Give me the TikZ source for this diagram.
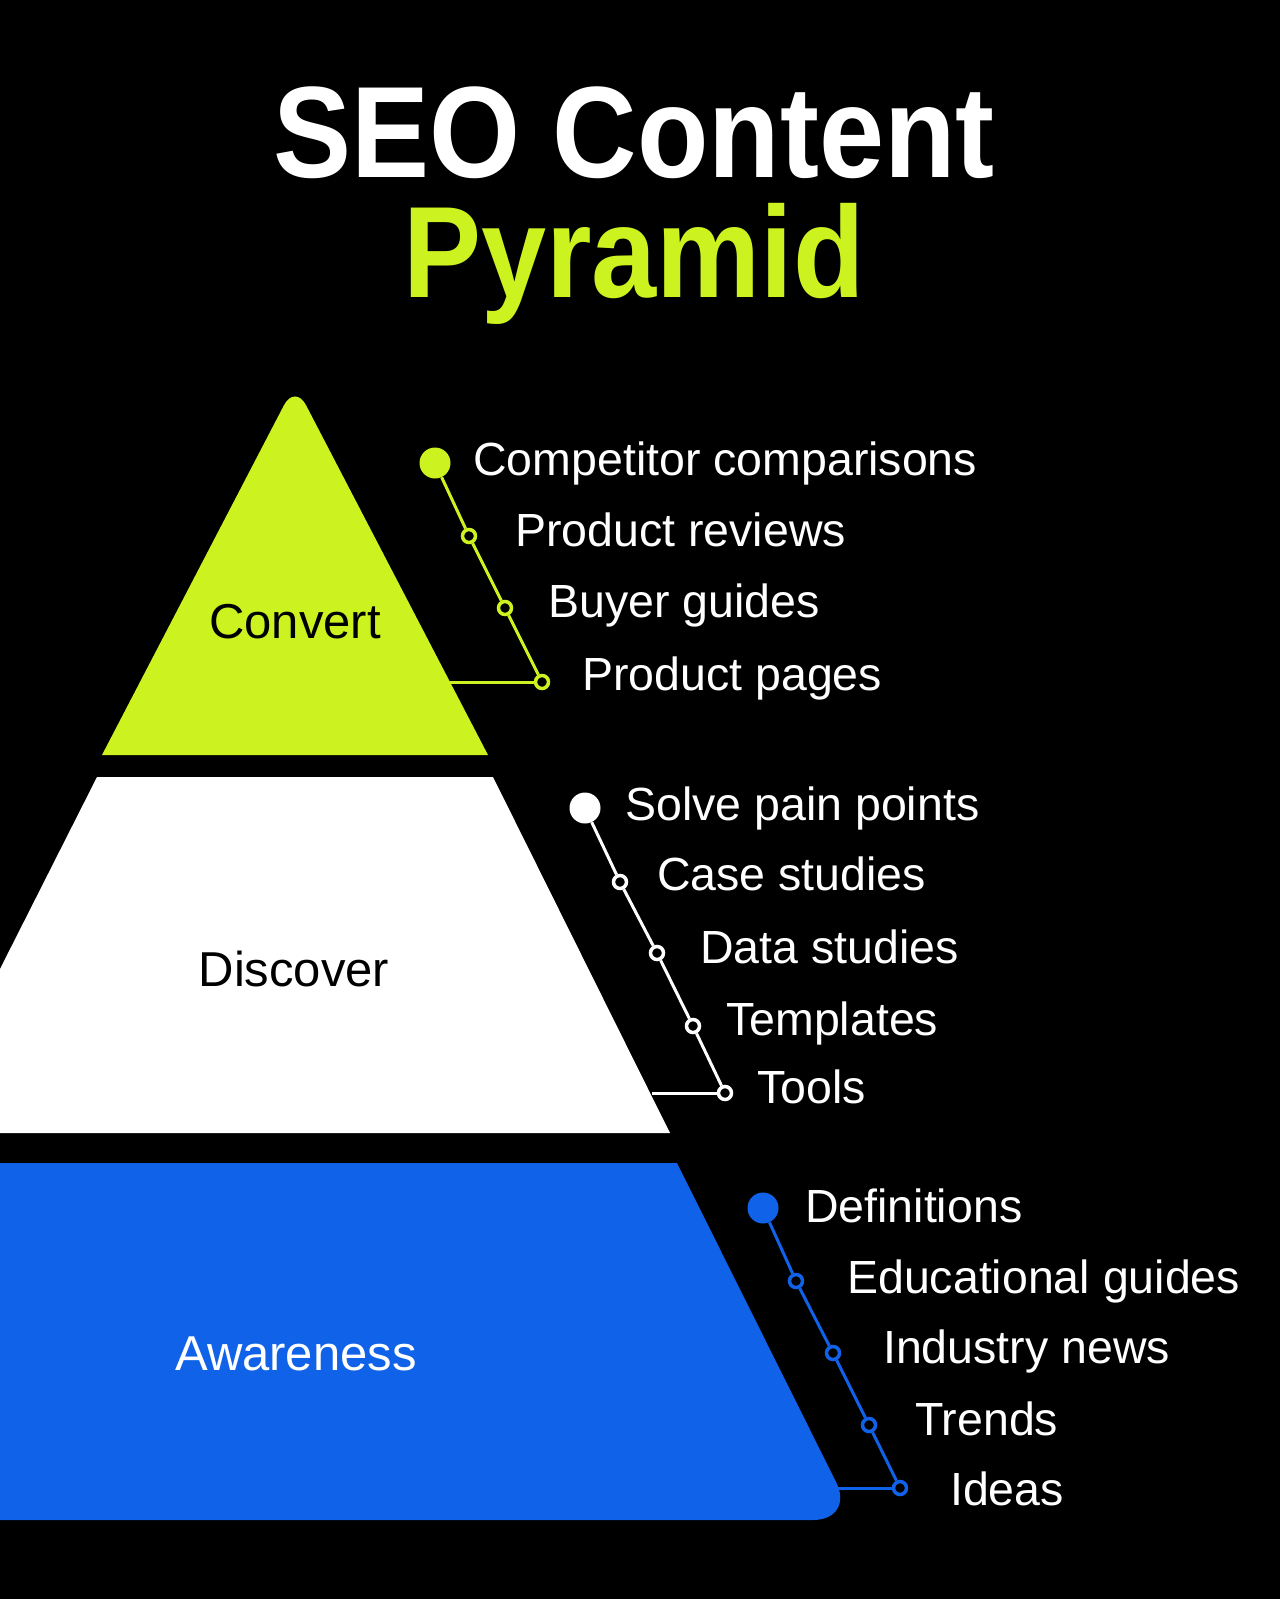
\documentclass[tikz,border=0pt]{standalone}
\usepackage{fontspec}
\setmainfont{Liberation Sans}
\definecolor{seolime}{HTML}{CCF21F}
\definecolor{seoblue}{HTML}{1063E8}
\begin{document}
\begin{tikzpicture}[x=1pt,y=-1pt,
  bigdot/.style={circle,fill=#1,minimum size=31pt,inner sep=0pt},
  ring/.style={circle,draw=#1,fill=black,line width=3.5pt,minimum size=13pt,inner sep=0pt},
  conn/.style={draw=#1,line width=3pt},
  item/.style={anchor=base west,inner sep=0pt,text=white,font=\fontsize{46.5}{50}\selectfont},
  layerlabel/.style={anchor=base,inner sep=0pt,font=\fontsize{49}{54}\selectfont},
  titletext/.style={anchor=base,inner sep=0pt,font=\fontsize{130}{140}\selectfont\bfseries}]
\useasboundingbox (0,0) rectangle (1280,1599);
\fill[black] (0,0) rectangle (1280,1599);

% title
\node[titletext,text=white] (t1) at (634,177) {\scalebox{0.9}[1]{SEO Content}};
\node[titletext,text=seolime] (t2) at (634,297) {\scalebox{0.9}[1]{Pyramid}};

% layers
\fill[seolime] (102,755) [rounded corners=24pt] -- (295,384) [sharp corners] -- (488,755) -- cycle;
\fill[white] (0,969) -- (97,777) -- (493,777) -- (670,1133) -- (0,1133) -- cycle;
\fill[seoblue] (0,1163) -- (677,1163) [rounded corners=42pt] -- (855,1520) [sharp corners] -- (0,1520) -- cycle;

\node[layerlabel,text=black] (lc) at (295,638) {Convert};
\node[layerlabel,text=black] (ld) at (294,986) {Discover};
\node[layerlabel,text=white] (la) at (296,1370) {Awareness};

% convert bullets
\coordinate (ec) at (450,682);
\node[bigdot=seolime] (c0) at (435,463) {};
\node[ring=seolime] (c1) at (469,536) {};
\node[ring=seolime] (c2) at (505,608) {};
\node[ring=seolime] (c3) at (542,682) {};
\draw[conn=seolime] (c0) -- (c1);
\draw[conn=seolime] (c1) -- (c2);
\draw[conn=seolime] (c2) -- (c3);
\draw[conn=seolime] (ec) -- (c3);
\node[item] (ct0) at (473,475) {Competitor comparisons};
\node[item] (ct1) at (515,546) {Product reviews};
\node[item] (ct2) at (548,617) {Buyer guides};
\node[item] (ct3) at (582,690) {Product pages};

% discover bullets
\coordinate (ed) at (652,1093);
\node[bigdot=white] (d0) at (585,808) {};
\node[ring=white] (d1) at (620,882) {};
\node[ring=white] (d2) at (657,953) {};
\node[ring=white] (d3) at (693,1026) {};
\node[ring=white] (d4) at (725,1093) {};
\draw[conn=white] (d0) -- (d1);
\draw[conn=white] (d1) -- (d2);
\draw[conn=white] (d2) -- (d3);
\draw[conn=white] (d3) -- (d4);
\draw[conn=white] (ed) -- (d4);
\node[item] (dt0) at (625,820) {Solve pain points};
\node[item] (dt1) at (657,890) {Case studies};
\node[item] (dt2) at (700,963) {Data studies};
\node[item] (dt3) at (726,1035) {Templates};
\node[item] (dt4) at (757,1103) {Tools};

% awareness bullets
\coordinate (ea) at (837,1488);
\node[bigdot=seoblue] (a0) at (763,1208) {};
\node[ring=seoblue] (a1) at (796,1281) {};
\node[ring=seoblue] (a2) at (833,1353) {};
\node[ring=seoblue] (a3) at (869,1425) {};
\node[ring=seoblue] (a4) at (900,1488) {};
\draw[conn=seoblue] (a0) -- (a1);
\draw[conn=seoblue] (a1) -- (a2);
\draw[conn=seoblue] (a2) -- (a3);
\draw[conn=seoblue] (a3) -- (a4);
\draw[conn=seoblue] (ea) -- (a4);
\node[item] (at0) at (805,1222) {Definitions};
\node[item] (at1) at (847,1293) {Educational guides};
\node[item] (at2) at (883,1363) {Industry news};
\node[item] (at3) at (915,1435) {Trends};
\node[item] (at4) at (950,1505) {Ideas};
\end{tikzpicture}
\end{document}
